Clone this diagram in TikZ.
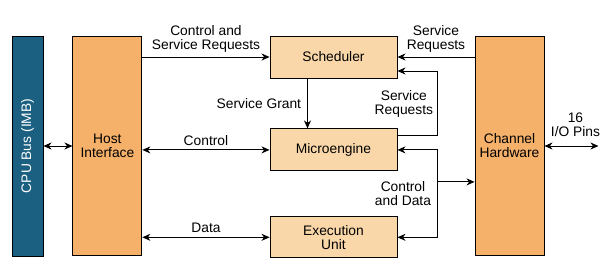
\documentclass[tikz,border=0pt]{standalone}
\usepackage{fontspec}
\setmainfont{Liberation Sans}
\usetikzlibrary{positioning,arrows.meta,calc}

\definecolor{busblue}{HTML}{1B6080}
\definecolor{unitorange}{HTML}{F5B06A}
\definecolor{blockpeach}{HTML}{F9D7A9}

\begin{document}
\begin{tikzpicture}[
    x=1pt, y=1pt,
    font=\fontsize{13.8}{14}\selectfont,
    >={Stealth[length=8pt,width=7pt,inset=2.5pt]},
    link/.style={line width=0.9pt},
    bus/.style={
        draw=black,
        fill=busblue,
        text=white,
        line width=0.9pt,
        minimum width=31pt,
        minimum height=220pt,
        inner sep=0pt
    },
    unit/.style={
        draw=black,
        fill=unitorange,
        align=center,
        line width=0.9pt,
        minimum width=69pt,
        minimum height=219pt,
        inner sep=0pt
    },
    block/.style={
        draw=black,
        fill=blockpeach,
        align=center,
        line width=0.9pt,
        minimum width=127pt,
        minimum height=42pt,
        inner sep=0pt
    },
    lbl/.style={align=center, inner sep=2pt}
]
\useasboundingbox (0,0) rectangle (610,-269);

% Buses and interfaces
\node[bus] (cpu) at (27.5,-146) {\rotatebox{90}{CPU Bus (IMB)}};
\node[unit, right=29pt of cpu] (host) {Host\\Interface};
\node[unit] (chan) at (509.5,-146) {Channel\\Hardware};

% Core blocks
\node[block] (sched) at (333.5,-57) {Scheduler};
\node[block, below=50pt of sched] (micro) {Microengine};
\node[block, below=45pt of micro, minimum height=41pt] (exec) {Execution\\Unit};

% Free ends
\coordinate (pins) at ([xshift=54pt]chan.east);

% Connectors
\draw[<->, link] (cpu.east) -- (cpu.east -| host.west);
\draw[->, link] (host.east |- sched.west) -- (sched.west)
    node[lbl, midway, above=2pt] {Control and\\Service Requests};
\draw[->, link] (chan.west |- sched.east) -- (sched.east)
    node[lbl, midway, above=2pt] {Service\\Requests};
\draw[->, link] ([xshift=-26pt]sched.south) -- ([xshift=-26pt]micro.north)
    node[lbl, midway, left=4pt] {Service Grant};
\draw[->, link] ([yshift=14pt]micro.east) -- ++(40,0) |- ([yshift=-14pt]sched.east)
    node[lbl, pos=0.25, left=2pt] {Service\\Requests};
\draw[<->, link] (host.east |- micro.west) -- (micro.west)
    node[lbl, midway, above=2pt] {Control};
\draw[<->, link] (host.east |- exec.west) -- (exec.west)
    node[lbl, midway, above=2pt] {Data};
\draw[<->, link] (micro.east) -- ++(40,0) coordinate (cdtop) |- (exec.east)
    node[lbl, pos=0.25, left=4pt] {Control\\and Data};
\coordinate (cd) at ([yshift=-32pt]cdtop);
\draw[->, link] (cd) -- (cd -| chan.west);
\draw[<->, link] (chan.east) -- (pins)
    node[lbl, midway, above=7pt, xshift=4pt] {16\\I/O Pins};

\end{tikzpicture}
\end{document}
